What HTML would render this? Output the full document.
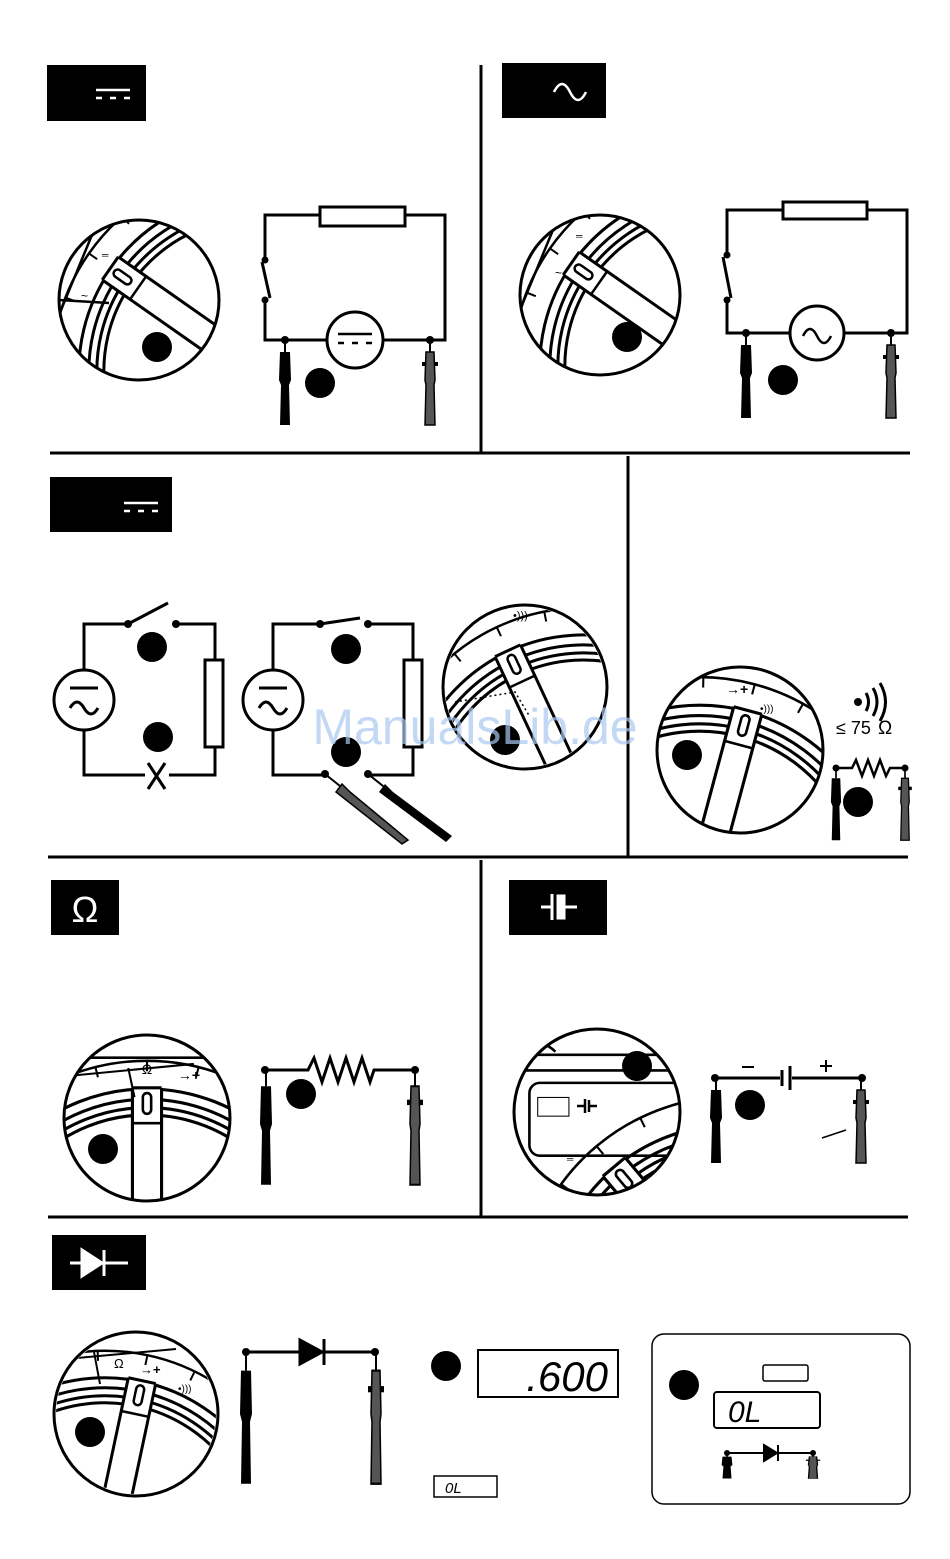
<!DOCTYPE html>
<html><head><meta charset="utf-8"><style>
html,body{margin:0;padding:0;background:#fff;width:950px;height:1559px;overflow:hidden;}
svg{display:block;}
text{font-family:"Liberation Sans","DejaVu Sans",sans-serif;}
</style></head><body>
<svg width="950" height="1559" viewBox="0 0 950 1559" xmlns="http://www.w3.org/2000/svg">
<defs>
  <clipPath id="c"><circle cx="0" cy="0" r="80"/></clipPath>
  <g id="knob" fill="none" stroke="#000">
    <circle cx="0" cy="150" r="205" stroke-width="2.5"/>
    <circle cx="0" cy="150" r="178" stroke-width="3"/>
    <circle cx="0" cy="150" r="168" stroke-width="3"/>
    <circle cx="0" cy="150" r="160" stroke-width="3"/>
    <circle cx="0" cy="150" r="153" stroke-width="3"/>
    <g stroke-width="2">
      <line x1="0" y1="-55" x2="0" y2="-45"/>
      <line x1="0" y1="-55" x2="0" y2="-45" transform="rotate(-14 0 150)"/>
      <line x1="0" y1="-55" x2="0" y2="-45" transform="rotate(14 0 150)"/>
      <line x1="0" y1="-55" x2="0" y2="-45" transform="rotate(-28 0 150)"/>
      <line x1="0" y1="-55" x2="0" y2="-45" transform="rotate(28 0 150)"/>
    </g>
    <rect x="-14" y="-30" width="28" height="200" fill="#fff" stroke="none"/>
    <line x1="-14" y1="-29" x2="-14" y2="200" stroke-width="3"/>
    <line x1="14" y1="-29" x2="14" y2="200" stroke-width="3"/>
    <line x1="-14" y1="-29" x2="14" y2="-29" stroke-width="3"/>
    <line x1="-14" y1="5" x2="14" y2="5" stroke-width="2.5"/>
    <rect x="-4" y="-24" width="8" height="20" rx="4" stroke-width="2.5"/>
  </g>
  <g id="bprobe">
    <line x1="0" y1="0" x2="0" y2="12" stroke="#000" stroke-width="2"/>
    <polygon points="-5,12 5,12 6,40 4,45 5,85 -5,85 -4,45 -6,40" fill="#000"/>
  </g>
  <g id="gprobe">
    <line x1="0" y1="0" x2="0" y2="12" stroke="#000" stroke-width="2"/>
    <rect x="-8" y="22" width="16" height="4" fill="#000"/>
    <polygon points="-4,12 4,12 5,40 4,45 5,85 -5,85 -4,45 -5,40" fill="#555" stroke="#000" stroke-width="1.5"/>
  </g>
</defs>

<!-- dividers -->
<g stroke="#000" stroke-width="3">
  <line x1="481" y1="65" x2="481" y2="453"/>
  <line x1="50" y1="453" x2="910" y2="453"/>
  <line x1="628" y1="456" x2="628" y2="856"/>
  <line x1="48" y1="857" x2="908" y2="857"/>
  <line x1="481" y1="860" x2="481" y2="1216"/>
  <line x1="48" y1="1217" x2="908" y2="1217"/>
</g>

<!-- headers -->
<rect x="47" y="65" width="99" height="56" fill="#000"/>
<g stroke="#fff" stroke-width="2.5"><line x1="96" y1="90" x2="130" y2="90"/><line x1="96" y1="98" x2="102" y2="98"/><line x1="110" y1="98" x2="116" y2="98"/><line x1="124" y1="98" x2="130" y2="98"/></g>
<rect x="502" y="63" width="104" height="55" fill="#000"/>
<path d="M554,92 q8,-16 16,0 q8,16 16,0" fill="none" stroke="#fff" stroke-width="2.5"/>
<rect x="50" y="477" width="122" height="55" fill="#000"/>
<g stroke="#fff" stroke-width="2.5"><line x1="124" y1="503" x2="158" y2="503"/><line x1="124" y1="511" x2="130" y2="511"/><line x1="138" y1="511" x2="144" y2="511"/><line x1="152" y1="511" x2="158" y2="511"/></g>
<rect x="51" y="880" width="68" height="55" fill="#000"/>
<text x="85" y="922" fill="#fff" font-size="36" text-anchor="middle" font-family="Liberation Serif,serif">Ω</text>
<rect x="509" y="880" width="98" height="55" fill="#000"/>
<g stroke="#fff" stroke-width="3" fill="#fff"><line x1="541" y1="907" x2="552" y2="907"/><line x1="552" y1="894" x2="552" y2="920"/><rect x="558" y="896" width="6" height="22"/><line x1="564" y1="907" x2="577" y2="907"/></g>
<rect x="52" y="1235" width="94" height="55" fill="#000"/>
<g stroke="#fff" stroke-width="3" fill="#fff"><line x1="70" y1="1263" x2="128" y2="1263"/><polygon points="82,1250 82,1276 102,1263"/><line x1="104" y1="1250" x2="104" y2="1276"/></g>

<!-- dials -->
<g transform="translate(139,300)">
  <g clip-path="url(#c)"><g transform="translate(-5,-15) rotate(-55)"><use href="#knob"/></g>
    <line x1="-45" y1="-70" x2="-78" y2="10" stroke="#000" stroke-width="2.5"/>
    <line x1="-80" y1="0" x2="-30" y2="3" stroke="#000" stroke-width="2.5"/>
  </g>
  <circle r="80" fill="none" stroke="#000" stroke-width="3"/>
  <text x="-37" y="-42" font-size="9">═</text><text x="-58" y="0" font-size="12">~</text>
</g>
<g transform="translate(600,295)">
  <g clip-path="url(#c)"><g transform="translate(-5,-15) rotate(-55)"><use href="#knob"/></g>
    <line x1="-45" y1="-70" x2="-78" y2="10" stroke="#000" stroke-width="2.5"/>
  </g>
  <circle r="80" fill="none" stroke="#000" stroke-width="3"/>
  <text x="-24" y="-56" font-size="9">═</text><text x="-45" y="-18" font-size="12">~</text>
</g>
<g transform="translate(525,687)">
  <g clip-path="url(#c)"><g transform="translate(-5,-10) rotate(-25)"><use href="#knob"/></g>
    <line x1="85" y1="-70" x2="85" y2="80" stroke="#000" stroke-width="2.5"/>
    <polyline points="-70,15 -10,5 5,30" fill="none" stroke="#000" stroke-width="1.5" stroke-dasharray="2,3"/>
  </g>
  <circle r="82" fill="none" stroke="#000" stroke-width="3"/>
  <text x="-12" y="-68" font-size="11">•)))</text>
</g>
<g transform="translate(740,750)">
  <g clip-path="url(#c)" transform="scale(1.04)"><g transform="translate(0,-10) rotate(15)"><use href="#knob"/></g></g>
  <circle r="83" fill="none" stroke="#000" stroke-width="3"/>
  <text x="-14" y="-56" font-size="14" font-weight="bold">→+</text><text x="20" y="-38" font-size="10">•)))</text>
</g>
<g transform="translate(147,1118)">
  <g clip-path="url(#c)" transform="scale(1.04)"><use href="#knob"/>
    <line x1="-70" y1="-58" x2="70" y2="-58" stroke="#000" stroke-width="2.5"/>
    <line x1="-80" y1="-40" x2="45" y2="-52" stroke="#000" stroke-width="2"/>
    <line x1="-18" y1="-48" x2="-12" y2="-20" stroke="#000" stroke-width="2"/>
  </g>
  <circle r="83" fill="none" stroke="#000" stroke-width="3"/>
  <text x="0" y="-44" font-size="14" text-anchor="middle" font-family="Liberation Serif,serif">Ω</text>
  <text x="42" y="-38" font-size="14" font-weight="bold" text-anchor="middle">→+</text>
</g>
<g transform="translate(597,1112)">
  <g clip-path="url(#c)" transform="scale(1.04)">
    <path d="M-95,-40 H70 M-95,-55 H70 M-70,-70 Q-50,-68 -40,-58" fill="none" stroke="#000" stroke-width="2.5"/>
    <rect x="-65" y="-28" width="200" height="70" rx="10" fill="none" stroke="#000" stroke-width="2.5"/>
    <rect x="-57" y="-14" width="30" height="18" fill="none" stroke="#000" stroke-width="1"/>
    <g transform="translate(35,75) rotate(-40)"><use href="#knob"/></g>
  </g>
  <circle r="83" fill="none" stroke="#000" stroke-width="3"/>
  <g stroke="#000" stroke-width="2.5"><line x1="-20" y1="-6" x2="-12" y2="-6"/><line x1="-12" y1="-13" x2="-12" y2="1"/><line x1="-8" y1="-12" x2="-8" y2="0"/><line x1="-8" y1="-6" x2="0" y2="-6"/></g>
  <text x="-30" y="50" font-size="9">═</text>
</g>
<g transform="translate(136,1414)">
  <g clip-path="url(#c)"><g transform="translate(0,-5) rotate(12)"><use href="#knob"/></g>
    <line x1="-70" y1="-55" x2="40" y2="-65" stroke="#000" stroke-width="2"/>
    <line x1="-42" y1="-62" x2="-36" y2="-30" stroke="#000" stroke-width="2"/>
  </g>
  <circle r="82" fill="none" stroke="#000" stroke-width="3"/>
  <text x="-22" y="-46" font-size="13" font-family="Liberation Serif,serif">Ω</text>
  <text x="4" y="-40" font-size="13" font-weight="bold">→+</text>
  <text x="42" y="-22" font-size="10">•)))</text>
</g>

<!-- circuit 1 -->
<g fill="none" stroke="#000" stroke-width="3">
  <polyline points="265,260 265,215 445,215 445,340 383,340"/>
  <polyline points="265,300 265,340 327,340"/>
  <line x1="262" y1="262" x2="270" y2="298"/>
  <circle cx="355" cy="340" r="28" fill="#fff"/>
</g>
<rect x="320" y="207" width="85" height="19" fill="#fff" stroke="#000" stroke-width="3"/>
<g stroke="#000" stroke-width="2.5"><line x1="338" y1="334" x2="372" y2="334"/><line x1="338" y1="343" x2="344" y2="343"/><line x1="352" y1="343" x2="358" y2="343"/><line x1="366" y1="343" x2="372" y2="343"/></g>
<circle cx="265" cy="260" r="3.5"/><circle cx="265" cy="300" r="3.5"/>
<circle cx="285" cy="340" r="4"/><circle cx="430" cy="340" r="4"/>
<use href="#bprobe" transform="translate(285,340)"/>
<use href="#gprobe" transform="translate(430,340)"/>
<circle cx="320" cy="383" r="15"/>
<circle cx="157" cy="347" r="15"/>

<!-- circuit 2 -->
<g fill="none" stroke="#000" stroke-width="3">
  <polyline points="727,255 727,210 907,210 907,333 844,333"/>
  <polyline points="727,300 727,333 790,333"/>
  <line x1="723" y1="257" x2="731" y2="298"/>
  <circle cx="817" cy="333" r="27" fill="#fff"/>
</g>
<rect x="783" y="202" width="84" height="17" fill="#fff" stroke="#000" stroke-width="3"/>
<path d="M803,336 q7,-14 14,0 q7,14 14,0" fill="none" stroke="#000" stroke-width="2.5"/>
<circle cx="727" cy="255" r="3.5"/><circle cx="727" cy="300" r="3.5"/>
<circle cx="746" cy="333" r="4"/><circle cx="891" cy="333" r="4"/>
<use href="#bprobe" transform="translate(746,333)"/>
<use href="#gprobe" transform="translate(891,333)"/>
<circle cx="783" cy="380" r="15"/>
<circle cx="627" cy="337" r="15"/>

<!-- section 3 left circuit -->
<g fill="none" stroke="#000" stroke-width="3">
  <polyline points="128,624 84,624 84,775 215,775 215,624 176,624"/>
  <line x1="128" y1="624" x2="168" y2="603"/>
  <circle cx="84" cy="700" r="30" fill="#fff"/>
  <line x1="70" y1="688" x2="98" y2="688"/>
  <path d="M70,708 q7,-12 14,0 q7,12 14,0"/>
</g>
<rect x="205" y="660" width="18" height="87" fill="#fff" stroke="#000" stroke-width="3"/>
<rect x="145" y="765" width="24" height="20" fill="#fff"/>
<g stroke="#000" stroke-width="3"><line x1="148" y1="763" x2="165" y2="789"/><line x1="165" y1="763" x2="148" y2="789"/></g>
<circle cx="128" cy="624" r="4"/><circle cx="176" cy="624" r="4"/>
<circle cx="152" cy="647" r="15"/><circle cx="158" cy="737" r="15"/>

<!-- section 3 second circuit -->
<g fill="none" stroke="#000" stroke-width="3">
  <polyline points="320,624 273,624 273,775 325,775"/>
  <polyline points="368,775 413,775 413,624 368,624"/>
  <line x1="320" y1="624" x2="360" y2="618"/>
  <circle cx="273" cy="700" r="30" fill="#fff"/>
  <line x1="259" y1="688" x2="287" y2="688"/>
  <path d="M259,708 q7,-12 14,0 q7,12 14,0"/>
</g>
<rect x="404" y="660" width="18" height="87" fill="#fff" stroke="#000" stroke-width="3"/>
<circle cx="320" cy="624" r="4"/><circle cx="368" cy="624" r="4"/>
<circle cx="325" cy="774" r="4"/><circle cx="368" cy="774" r="4"/>
<g stroke="#000" stroke-width="2"><line x1="325" y1="774" x2="345" y2="790"/><line x1="368" y1="774" x2="388" y2="790"/></g>
<polygon points="342,784 350,792 408,840 402,844 336,792" fill="#555" stroke="#000" stroke-width="1.5"/>
<polygon points="385,784 393,792 452,836 446,842 379,792" fill="#000"/>
<circle cx="346" cy="649" r="15"/><circle cx="346" cy="752" r="15"/>
<circle cx="505" cy="740" r="15"/>

<!-- section 4 right -->
<circle cx="858" cy="702" r="4"/>
<path d="M866,693 q5,9 0,18 M873,688 q8,14 0,28 M880,683 q11,19 0,38" fill="none" stroke="#000" stroke-width="3"/>
<text x="836" y="734" font-size="18">≤ 75</text><text x="878" y="734" font-size="19" font-family="Liberation Serif,serif">Ω</text>
<polyline points="836,768 852,768 856,760 862,776 868,760 874,776 880,760 886,776 890,768 905,768" fill="none" stroke="#000" stroke-width="2.5"/>
<circle cx="836" cy="768" r="3.5"/><circle cx="905" cy="768" r="3.5"/>
<use href="#bprobe" transform="translate(836,768) scale(0.85)"/>
<use href="#gprobe" transform="translate(905,768) scale(0.85)"/>
<circle cx="858" cy="802" r="15"/>
<circle cx="687" cy="755" r="15"/>

<!-- ohm section -->
<polyline points="265,1070 308,1070 314,1058 322,1082 330,1058 338,1082 346,1058 354,1082 362,1058 370,1082 374,1070 415,1070" fill="none" stroke="#000" stroke-width="3"/>
<circle cx="265" cy="1070" r="4"/><circle cx="415" cy="1070" r="4"/>
<use href="#bprobe" transform="translate(266,1070) scale(1,1.35)"/>
<use href="#gprobe" transform="translate(415,1070) scale(1,1.35)"/>
<circle cx="301" cy="1094" r="15"/>
<circle cx="103" cy="1149" r="15"/>

<!-- cap section -->
<g stroke="#000" stroke-width="3">
  <line x1="715" y1="1078" x2="780" y2="1078"/>
  <line x1="792" y1="1078" x2="862" y2="1078"/>
  <line x1="782" y1="1070" x2="782" y2="1086"/>
  <line x1="790" y1="1066" x2="790" y2="1090"/>
  <line x1="742" y1="1067" x2="754" y2="1067" stroke-width="2"/>
  <line x1="820" y1="1066" x2="832" y2="1066" stroke-width="2"/>
  <line x1="826" y1="1060" x2="826" y2="1072" stroke-width="2"/>
  <line x1="822" y1="1138" x2="846" y2="1130" stroke-width="1.5"/>
</g>
<circle cx="715" cy="1078" r="4"/><circle cx="862" cy="1078" r="4"/>
<use href="#bprobe" transform="translate(716,1078)"/>
<use href="#gprobe" transform="translate(861,1078)"/>
<circle cx="750" cy="1105" r="15"/>
<circle cx="637" cy="1066" r="15"/>

<!-- diode section -->
<g stroke="#000" stroke-width="3">
  <line x1="246" y1="1352" x2="375" y2="1352"/>
  <polygon points="300,1340 300,1364 322,1352" fill="#000"/>
  <line x1="324" y1="1339" x2="324" y2="1365"/>
</g>
<circle cx="246" cy="1352" r="4"/><circle cx="375" cy="1352" r="4"/>
<use href="#bprobe" transform="translate(246,1352) scale(1,1.55)"/>
<use href="#gprobe" transform="translate(376,1352) scale(1,1.55)"/>
<circle cx="90" cy="1432" r="15"/>
<circle cx="446" cy="1366" r="15"/>
<rect x="478" y="1350" width="140" height="47" fill="none" stroke="#000" stroke-width="2"/>
<text x="608" y="1391" font-size="42" text-anchor="end" font-style="italic" font-family="Liberation Mono,monospace">.600</text>
<rect x="434" y="1476" width="63" height="21" fill="none" stroke="#000" stroke-width="1.5"/>
<text x="445" y="1493" font-size="15" font-style="italic" font-family="Liberation Mono,monospace">0L</text>
<rect x="652" y="1334" width="258" height="170" rx="12" fill="none" stroke="#000" stroke-width="1.5"/>
<circle cx="684" cy="1385" r="15"/>
<rect x="763" y="1365" width="45" height="16" rx="2" fill="none" stroke="#000" stroke-width="1.5"/>
<rect x="714" y="1392" width="106" height="36" rx="3" fill="none" stroke="#000" stroke-width="2"/>
<text x="728" y="1422" font-size="30" font-style="italic" font-family="Liberation Mono,monospace">0L</text>
<g stroke="#000" stroke-width="2">
  <line x1="727" y1="1453" x2="813" y2="1453"/>
  <polygon points="764,1445 764,1461 777,1453" fill="#000"/>
  <line x1="778" y1="1445" x2="778" y2="1461"/>
</g>
<circle cx="727" cy="1453" r="3"/><circle cx="813" cy="1453" r="3"/>
<use href="#bprobe" transform="translate(727,1453) scale(0.9,0.3)"/>
<use href="#gprobe" transform="translate(813,1453) scale(0.9,0.3)"/>

<!-- watermark -->
<text x="475" y="744" font-size="50" fill="#a8c8f0" fill-opacity="0.7" text-anchor="middle">ManualsLib.de</text>
</svg>
</body></html>
